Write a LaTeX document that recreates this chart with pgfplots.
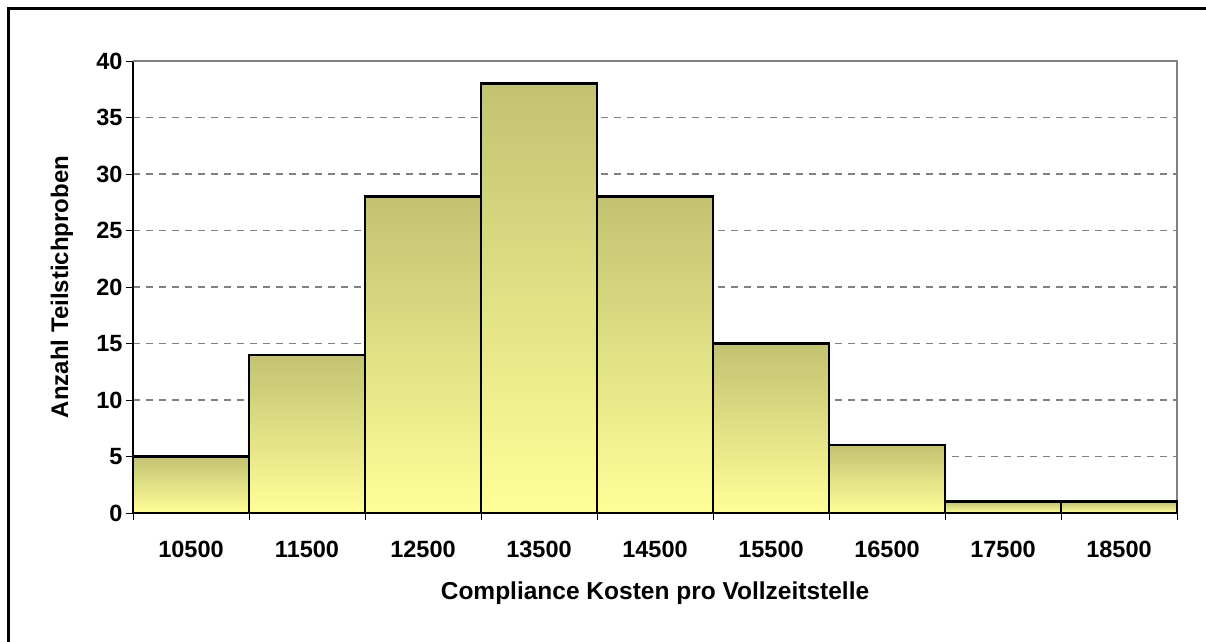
\documentclass[border=0pt]{standalone}
\usepackage{pgfplots}
\pgfplotsset{compat=1.18}
\usepackage{fontspec}
\setmainfont{Liberation Sans}
\definecolor{barTop}{RGB}{194,194,114}
\definecolor{barBot}{RGB}{255,255,153}
\definecolor{gridGray}{RGB}{128,128,128}
\begin{document}
\begin{tikzpicture}[x=1pt,y=1pt]
\useasboundingbox (0,0) rectangle (1206,641);
\begin{axis}[
  at={(133pt,128pt)}, anchor=south west,
  scale only axis, width=1044pt, height=452pt,
  xmin=10000, xmax=19000, ymin=0, ymax=40,
  axis x line*=bottom, axis y line*=left,
  axis line style={black, line width=1.3pt},
  ytick={0,5,...,40},
  xtick={10500,11500,...,18500},
  minor xtick={10000,11000,...,19000},
  xticklabels={10500,11500,12500,13500,14500,15500,16500,17500,18500},
  scaled x ticks=false,
  tick align=outside,
  major x tick style={draw=none},
  minor x tick style={black, line width=1pt},
  minor tick length=7pt,
  major tick length=7pt,
  ytick style={black, line width=1pt},
  ymajorgrids,
  major grid style={gridGray, line width=1.2pt, dash pattern=on 7pt off 6pt},
  /pgf/number format/assume math mode=true,
  /pgf/number format/set thousands separator={},
  tick label style={font=\bfseries\fontsize{23.5}{27}\selectfont},
  x tick label style={yshift=-18pt},
  y tick label style={xshift=0pt},
  xlabel={Compliance Kosten pro Vollzeitstelle},
  ylabel={Anzahl Teilstichproben},
  xlabel style={at={(axis description cs:0.5,-0.177)}, anchor=center, font=\bfseries\fontsize{24.5}{28}\selectfont},
  ylabel style={at={(axis description cs:-0.068,0.5)}, anchor=center, rotate=0, font=\bfseries\fontsize{24}{28}\selectfont},
  clip=false,
  barstyle/.style={ybar, bar width=1000, bar shift=0pt, draw=black, line width=2.5pt,
    top color=barTop, bottom color=barBot},
]
\draw[gridGray, line width=1.3pt] (rel axis cs:0,1) -- (rel axis cs:1,1) -- (rel axis cs:1,0);
\addplot[barstyle] coordinates {(10500,5)};
\addplot[barstyle] coordinates {(11500,14)};
\addplot[barstyle] coordinates {(12500,28)};
\addplot[barstyle] coordinates {(13500,38)};
\addplot[barstyle] coordinates {(14500,28)};
\addplot[barstyle] coordinates {(15500,15)};
\addplot[barstyle] coordinates {(16500,6)};
\addplot[barstyle] coordinates {(17500,1)};
\addplot[barstyle] coordinates {(18500,1)};
\end{axis}
\draw[black, line width=3pt] (8.5,-5) -- (8.5,632.5) -- (1215,632.5);
\end{tikzpicture}
\end{document}
